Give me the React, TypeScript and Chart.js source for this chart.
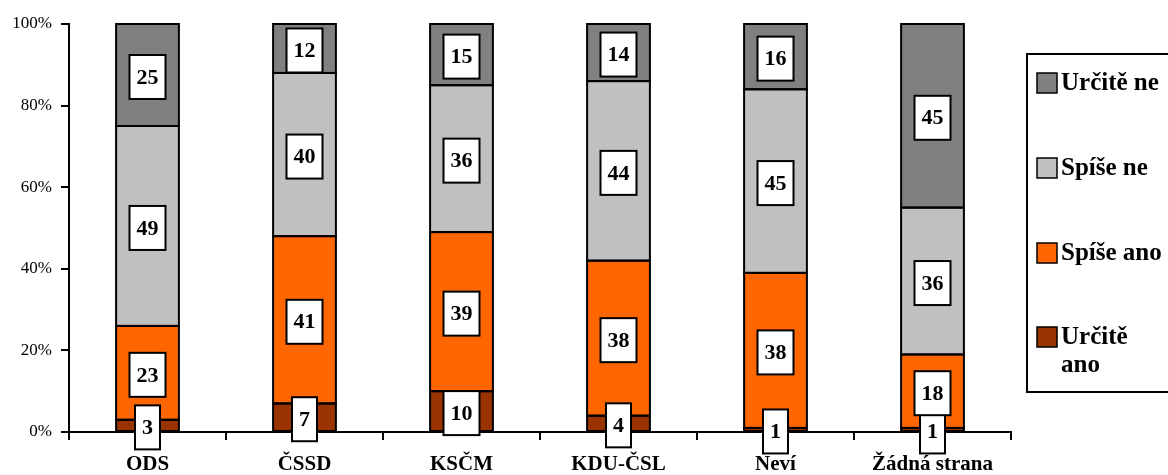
import React, { useEffect, useRef } from "react";
import { Chart, registerables } from "chart.js";

Chart.register(...registerables);

const categories = ["ODS", "ČSSD", "KSČM", "KDU-ČSL", "Neví", "Žádná strana"];
const seriesNames = ["Určitě ano", "Spíše ano", "Spíše ne", "Určitě ne"];
const urciteAno = [3, 7, 10, 4, 1, 1];
const spiseAno = [23, 41, 39, 38, 38, 18];
const spiseNe = [49, 40, 36, 44, 45, 36];
const urciteNe = [25, 12, 15, 14, 16, 45];
const seriesColors = ["#993300", "#FF6600", "#C0C0C0", "#808080"];
const yTicks = [0, 20, 40, 60, 80, 100];

const SERIF = '"Liberation Serif", "Times New Roman", serif';

const labelPlugin = {
  id: "boxLabels",
  afterDatasetsDraw(chart: any) {
    const ctx = chart.ctx;
    ctx.save();
    // outlines of segments
    ctx.lineWidth = 2;
    ctx.strokeStyle = "#000000";
    chart.data.datasets.forEach((_ds: any, di: number) => {
      const meta = chart.getDatasetMeta(di);
      meta.data.forEach((el: any) => {
        const left = el.x - el.width / 2;
        const top = Math.min(el.y, el.base);
        const h = Math.abs(el.base - el.y);
        ctx.strokeRect(left, top, el.width, h);
      });
    });
    ctx.font = `bold 22px ${SERIF}`;
    ctx.textAlign = "center";
    ctx.textBaseline = "middle";
    chart.data.datasets.forEach((ds: any, di: number) => {
      const meta = chart.getDatasetMeta(di);
      meta.data.forEach((el: any, i: number) => {
        const v = ds.data[i];
        const txt = String(v);
        const cx = el.x;
        const cy = (el.y + el.base) / 2 + 2;
        const tw = ctx.measureText(txt).width;
        const w = tw + 14;
        const h = 44;
        ctx.fillStyle = "#ffffff";
        ctx.fillRect(cx - w / 2, cy - h / 2, w, h);
        ctx.lineWidth = 2;
        ctx.strokeStyle = "#000000";
        ctx.strokeRect(cx - w / 2, cy - h / 2, w, h);
        ctx.fillStyle = "#000000";
        ctx.fillText(txt, cx, cy + 1);
      });
    });
    ctx.restore();
  },
};

const legendPlugin = {
  id: "boxLegend",
  afterDraw(chart: any) {
    const ctx = chart.ctx;
    ctx.save();
    ctx.lineWidth = 2;
    ctx.strokeStyle = "#000000";
    ctx.strokeRect(1027, 54, 200, 338);
    const items = [
      { name: seriesNames[3], color: seriesColors[3], y: 83 },
      { name: seriesNames[2], color: seriesColors[2], y: 168 },
      { name: seriesNames[1], color: seriesColors[1], y: 253 },
      { name: seriesNames[0], color: seriesColors[0], y: 337 },
    ];
    ctx.font = `bold 25px ${SERIF}`;
    ctx.textAlign = "left";
    ctx.textBaseline = "middle";
    items.forEach((it, idx) => {
      ctx.fillStyle = it.color;
      ctx.fillRect(1037, it.y - 10, 20, 20);
      ctx.lineWidth = 1.5;
      ctx.strokeStyle = "#000000";
      ctx.strokeRect(1037, it.y - 10, 20, 20);
      ctx.fillStyle = "#000000";
      if (idx === 3) {
        const parts = it.name.split(" ");
        ctx.fillText(parts[0], 1061, it.y + 1);
        ctx.fillText(parts[1], 1061, it.y + 29);
      } else {
        ctx.fillText(it.name, 1061, it.y + 1);
      }
    });
    ctx.restore();
  },
};

export default function App() {
  const ref = useRef<HTMLCanvasElement>(null);
  useEffect(() => {
    document.body.style.margin = "0";
    const values = [urciteAno, spiseAno, spiseNe, urciteNe];
    const chart = new Chart(ref.current as HTMLCanvasElement, {
      type: "bar",
      data: {
        labels: categories,
        datasets: values.map((d, i) => ({
          label: seriesNames[i],
          data: d,
          backgroundColor: seriesColors[i],
          borderWidth: 0,
          barPercentage: 0.4,
          categoryPercentage: 1,
        })),
      },
      options: {
        animation: false,
        responsive: false,
        maintainAspectRatio: false,
        layout: { padding: { top: 24, right: 157, left: 0, bottom: 0 } },
        plugins: {
          legend: { display: false },
          tooltip: { enabled: false },
          title: { display: false },
        },
        scales: {
          x: {
            stacked: true,
            offset: true,
            grid: {
              display: true,
              drawOnChartArea: false,
              offset: true,
              color: "#000000",
              tickLength: 8,
              lineWidth: 2,
            },
            border: { display: true, color: "#000000", width: 2 },
            ticks: {
              color: "#000000",
              padding: 12,
              font: { family: SERIF, size: 21, weight: "bold" },
              maxRotation: 0,
              autoSkip: false,
            },
            afterFit: (s: any) => {
              s.height = 43;
            },
          },
          y: {
            stacked: true,
            min: 0,
            max: 100,
            afterBuildTicks: (s: any) => {
              s.ticks = yTicks.map((v) => ({ value: v }));
            },
            grid: {
              display: true,
              drawOnChartArea: false,
              color: "#000000",
              tickLength: 8,
              lineWidth: 2,
            },
            border: { display: true, color: "#000000", width: 2 },
            ticks: {
              color: "#000000",
              padding: 9,
              font: { family: SERIF, size: 17 },
              callback: (v: any) => `${v}%`,
            },
            afterFit: (s: any) => {
              s.width = 69;
            },
          },
        },
      },
      plugins: [labelPlugin, legendPlugin],
    } as any);
    return () => chart.destroy();
  }, []);
  return (
    <div style={{ width: 1168, height: 475 }}>
      <canvas ref={ref} width={1168} height={475} style={{ display: "block" }} />
    </div>
  );
}
